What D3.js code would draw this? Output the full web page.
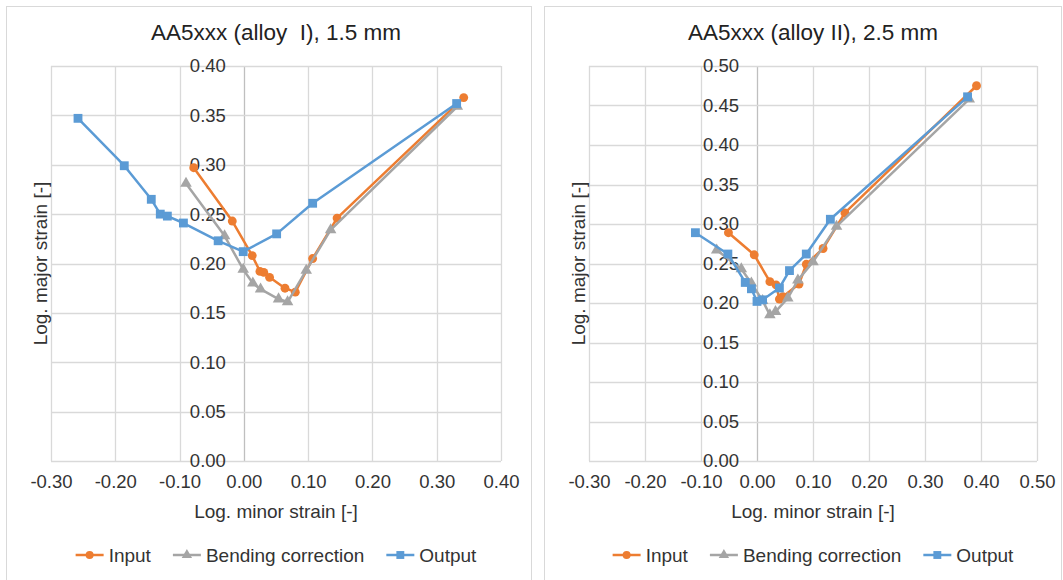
<!DOCTYPE html>
<html>
<head>
<meta charset="utf-8">
<script src="https://cdn.jsdelivr.net/npm/d3@7"></script>
<style>
  body { margin: 0; background: #fff; }
  svg { font-family: "Liberation Sans", Arial, sans-serif; }
</style>
</head>
<body>
<svg id="chart" width="1063" height="580"></svg>
<script>
// left chart: AA5xxx (alloy I), 1.5 mm
var leftInputX   = [-0.078, -0.018, 0.013, 0.025, 0.031, 0.040, 0.064, 0.080, 0.107, 0.145, 0.342];
var leftInputY   = [0.297, 0.243, 0.208, 0.192, 0.191, 0.186, 0.175, 0.171, 0.205, 0.246, 0.368];
var leftBendX    = [-0.090, -0.030, -0.001, 0.014, 0.026, 0.054, 0.068, 0.097, 0.135, 0.332];
var leftBendY    = [0.281, 0.228, 0.194, 0.180, 0.174, 0.164, 0.161, 0.193, 0.234, 0.359];
var leftOutputX  = [-0.258, -0.186, -0.144, -0.130, -0.119, -0.094, -0.040, -0.001, 0.051, 0.107, 0.331];
var leftOutputY  = [0.347, 0.299, 0.265, 0.250, 0.248, 0.241, 0.223, 0.212, 0.230, 0.261, 0.362];

// right chart: AA5xxx (alloy II), 2.5 mm
var rightInputX  = [-0.051, -0.005, 0.023, 0.034, 0.040, 0.046, 0.075, 0.088, 0.118, 0.157, 0.392];
var rightInputY  = [0.289, 0.261, 0.227, 0.223, 0.205, 0.208, 0.224, 0.249, 0.269, 0.314, 0.475];
var rightBendX   = [-0.072, -0.028, -0.010, 0.010, 0.023, 0.033, 0.055, 0.073, 0.100, 0.142, 0.379];
var rightBendY   = [0.267, 0.243, 0.225, 0.203, 0.185, 0.189, 0.206, 0.229, 0.252, 0.297, 0.458];
var rightOutputX = [-0.110, -0.052, -0.021, -0.010, 0.000, 0.010, 0.040, 0.058, 0.088, 0.131, 0.376];
var rightOutputY = [0.289, 0.262, 0.226, 0.218, 0.202, 0.204, 0.219, 0.241, 0.262, 0.306, 0.461];

// tick labels
var leftXTicks  = [-0.3, -0.2, -0.1, 0, 0.1, 0.2, 0.3, 0.4];
var leftYTicks  = [0, 0.05, 0.1, 0.15, 0.2, 0.25, 0.3, 0.35, 0.4];
var rightXTicks = [-0.3, -0.2, -0.1, 0, 0.1, 0.2, 0.3, 0.4, 0.5];
var rightYTicks = [0, 0.05, 0.1, 0.15, 0.2, 0.25, 0.3, 0.35, 0.4, 0.45, 0.5];

var seriesNames = ["Input", "Bending correction", "Output"];

var colors = { Input: "#ED7D31", "Bending correction": "#A5A5A5", Output: "#5B9BD5" };
var symbols = { Input: d3.symbolCircle, "Bending correction": d3.symbolTriangle, Output: d3.symbolSquare };
var symbolSize = { Input: 62, "Bending correction": 58, Output: 78 };

var svg = d3.select("#chart");

function zip(xs, ys) {
    return xs.map(function(d, i) { return { x: d, y: ys[i] }; });
}

function drawPanel(cfg) {
    var g = svg.append("g");

    // panel frame
    g.append("rect")
        .attr("x", cfg.panel[0] + 0.5)
        .attr("y", 6.5)
        .attr("width", cfg.panel[1] - cfg.panel[0])
        .attr("height", 600)
        .style("fill", "#fff")
        .style("stroke", "#d9d9d9");

    var x = d3.scaleLinear().domain(d3.extent(cfg.xTicks)).range([cfg.left, cfg.right]);
    var y = d3.scaleLinear().domain(d3.extent(cfg.yTicks)).range([cfg.bottom, cfg.top]);
    var midX = (cfg.left + cfg.right) / 2;

    // gridlines
    g.selectAll(".vgrid")
        .data(cfg.xTicks)
        .enter()
        .append("line")
        .attr("x1", function(d) { return Math.round(x(d)) + 0.5; })
        .attr("x2", function(d) { return Math.round(x(d)) + 0.5; })
        .attr("y1", cfg.top)
        .attr("y2", cfg.bottom)
        .style("stroke", function(d) { return d === 0 ? "#bfbfbf" : "#d9d9d9"; })
        .style("stroke-width", 1.3);

    g.selectAll(".hgrid")
        .data(cfg.yTicks)
        .enter()
        .append("line")
        .attr("x1", cfg.left)
        .attr("x2", cfg.right)
        .attr("y1", function(d) { return Math.round(y(d)) + 0.5; })
        .attr("y2", function(d) { return Math.round(y(d)) + 0.5; })
        .style("stroke", "#d9d9d9")
        .style("stroke-width", 1.3);

    var fmt = function(d) { return d.toFixed(2); };

    // x axis labels
    var xAxis = g.append("g")
        .attr("transform", "translate(0," + cfg.bottom + ")")
        .call(d3.axisBottom(x).tickValues(cfg.xTicks).tickFormat(fmt).tickSize(0).tickPadding(14));
    // y axis labels sit on the x = 0 line
    var yAxis = g.append("g")
        .attr("transform", "translate(" + x(0) + ",0)")
        .call(d3.axisLeft(y).tickValues(cfg.yTicks).tickFormat(fmt).tickSize(0).tickPadding(18));
    [xAxis, yAxis].forEach(function(a) {
        a.select(".domain").remove();
        a.selectAll("text")
            .style("font-family", "'Liberation Sans', Arial, sans-serif")
            .style("font-size", "18.5px")
            .style("fill", "#333");
    });

    // titles
    g.append("text")
        .attr("x", midX)
        .attr("y", 40)
        .attr("text-anchor", "middle")
        .style("font-size", "22.5px")
        .style("white-space", "pre")
        .style("fill", "#222")
        .text(cfg.title);

    g.append("text")
        .attr("x", midX)
        .attr("y", 518)
        .attr("text-anchor", "middle")
        .style("font-size", "19px")
        .style("fill", "#333")
        .text("Log. minor strain [-]");

    g.append("text")
        .attr("transform", "translate(" + cfg.yTitleX + "," + (cfg.top + cfg.bottom) / 2 + ") rotate(-90)")
        .attr("dy", "0.35em")
        .attr("text-anchor", "middle")
        .style("font-size", "19px")
        .style("fill", "#333")
        .text("Log. major strain [-]");

    // series
    var line = d3.line()
        .x(function(d) { return x(d.x); })
        .y(function(d) { return y(d.y); });

    cfg.series.forEach(function(s) {
        var pts = zip(s.xs, s.ys);
        g.append("path")
            .datum(pts)
            .attr("d", line)
            .style("fill", "none")
            .style("stroke", colors[s.name])
            .style("stroke-width", 2.5)
            .style("stroke-linejoin", "round");
        g.selectAll(null)
            .data(pts)
            .enter()
            .append("path")
            .attr("transform", function(d) { return "translate(" + x(d.x) + "," + y(d.y) + ")"; })
            .attr("d", d3.symbol().type(symbols[s.name]).size(symbolSize[s.name]))
            .style("fill", colors[s.name]);
    });

    // legend, centred under the plot
    var leg = g.append("g");
    var cursor = 0;
    seriesNames.forEach(function(name) {
        var item = leg.append("g").attr("transform", "translate(" + cursor + ",0)");
        item.append("line")
            .attr("x1", 0).attr("x2", 28)
            .style("stroke", colors[name])
            .style("stroke-width", 2.5);
        item.append("path")
            .attr("transform", "translate(14,0)")
            .attr("d", d3.symbol().type(symbols[name]).size(symbolSize[name] * 0.8))
            .style("fill", colors[name]);
        var t = item.append("text")
            .attr("x", 33)
            .attr("dy", "0.35em")
            .style("font-size", "19px")
            .style("fill", "#333")
            .text(name);
        cursor += 33 + t.node().getComputedTextLength() + 22;
    });
    var legWidth = cursor - 22;
    leg.attr("transform", "translate(" + (midX - legWidth / 2) + ",555)");
}

drawPanel({
    panel: [6, 531],
    left: 51, right: 501, top: 66, bottom: 461,
    yTitleX: 40,
    xTicks: leftXTicks, yTicks: leftYTicks,
    title: "AA5xxx (alloy  I), 1.5 mm",
    series: [
        { name: "Input", xs: leftInputX, ys: leftInputY },
        { name: "Bending correction", xs: leftBendX, ys: leftBendY },
        { name: "Output", xs: leftOutputX, ys: leftOutputY }
    ]
});

drawPanel({
    panel: [544, 1061],
    left: 589, right: 1037, top: 66, bottom: 461,
    yTitleX: 578,
    xTicks: rightXTicks, yTicks: rightYTicks,
    title: "AA5xxx (alloy II), 2.5 mm",
    series: [
        { name: "Input", xs: rightInputX, ys: rightInputY },
        { name: "Bending correction", xs: rightBendX, ys: rightBendY },
        { name: "Output", xs: rightOutputX, ys: rightOutputY }
    ]
});
</script>
</body>
</html>
